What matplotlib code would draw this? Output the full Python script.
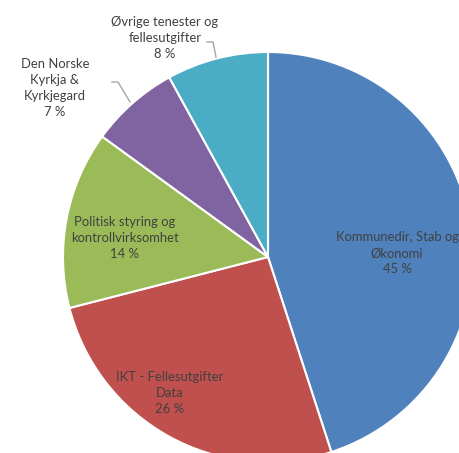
import matplotlib.pyplot as plt

labels = ['Kommunedir, Stab og\nØkonomi', 'IKT - Fellesutgifter\nData',
          'Politisk styring og\nkontrollvirksomhet', 'Den Norske\nKyrkja &\nKyrkjegard',
          'Øvrige tenester og\nfellesutgifter']
values = [45, 26, 14, 7, 8]
colors = ['#4F81BD', '#C0504D', '#9BBB59', '#8064A2', '#4BACC6']

# label centres in pixel coords (y down)
label_pos = [(397, 253), (170, 393), (125, 238), (55, 88), (165, 38)]

plt.rcParams['font.family'] = ['Lato', 'DejaVu Sans']

fig = plt.figure(figsize=(4.59, 4.53), dpi=100)
ax = fig.add_axes([0, 0, 1, 1])

ax.pie(values, colors=colors, startangle=-90, counterclock=True,
       center=(268, 257), radius=205, frame=True,
       wedgeprops=dict(edgecolor='white', linewidth=1.5))
ax.set_xlim(0, 459)
ax.set_ylim(453, 0)
ax.set_aspect('equal')
ax.axis('off')

for lab, v, (x, y) in zip(labels, values, label_pos):
    ax.text(x, y, f'{lab}\n{v} %', ha='center', va='center',
            fontsize=9.4, color='#404040', linespacing=1.42)

# leader lines
ax.plot([207, 213, 216], [42, 42, 57], color='#A6A6A6', lw=1)
ax.plot([112, 118, 130], [82, 82, 102], color='#A6A6A6', lw=1)

fig.savefig('out.png', dpi=100)
